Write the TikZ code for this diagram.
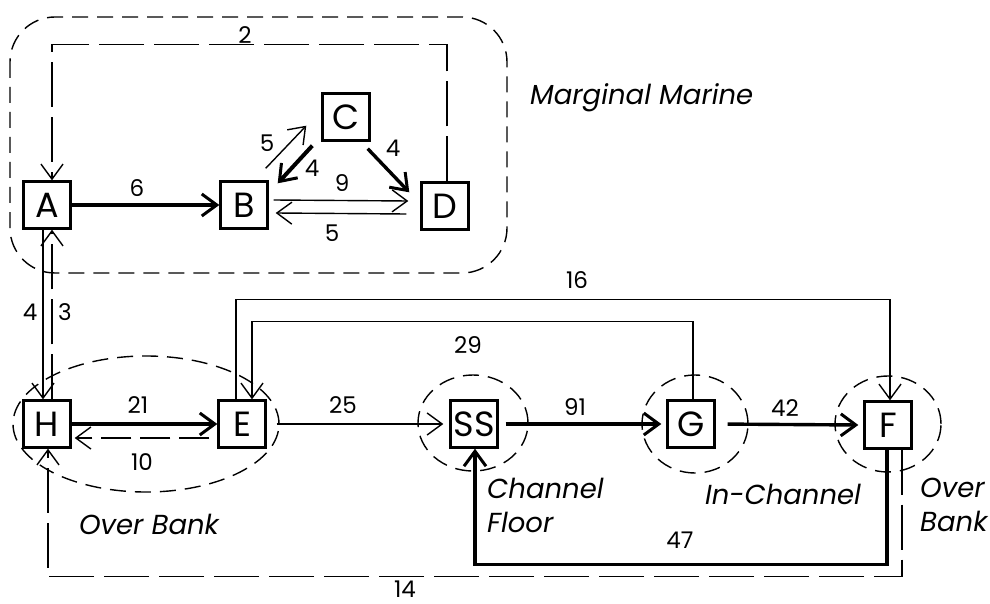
\documentclass[tikz,border=0pt]{standalone}
\usepackage{fontspec}
\setmainfont{Poppins}
\usetikzlibrary{arrows.meta,calc,shapes.geometric}
\begin{document}
\begin{tikzpicture}[x=1pt,y=-1pt,
 box/.style={draw,line width=2.4pt,minimum size=47pt,inner sep=0pt,font=\fontsize{35}{35}\selectfont},
 num/.style={font=\fontsize{23}{23}\selectfont,inner sep=0pt},
 region/.style={font=\fontsize{27.5}{34}\selectfont\itshape,inner sep=0pt,align=left},
 tipthin/.style={-{Straight Barb[length=15pt,width=22pt,line width=1.4pt]}},
 thinflow/.style={line width=1.4pt,tipthin},
 thickflow/.style={line width=3.4pt,-{Straight Barb[length=15pt,width=22pt,line width=3pt]}},
 dashflow/.style={line width=1.4pt,dash pattern=on 45pt off 10pt,tipthin},
 zone/.style={line width=1.4pt,dash pattern=on 16pt off 9pt},
]
\useasboundingbox (0,0) rectangle (990,604);

% zones
\draw[zone, rounded corners=45pt] (10,17) rectangle (507,273);
\node[zone,draw,ellipse,minimum width=266pt,minimum height=136pt] (zHE) at (146,424) {};
\node[zone,draw,ellipse,minimum width=110pt,minimum height=96pt] (zSS) at (473,423) {};
\node[zone,draw,ellipse,minimum width=106pt,minimum height=98pt] (zG) at (695,424) {};
\node[zone,draw,ellipse,minimum width=106pt,minimum height=96pt] (zF) at (888,424) {};

% boxes
\node[box,fill=white] (A) at (47,205) {A};
\node[box,fill=white] (B) at (244,205) {B};
\node[box,fill=white] (C) at (346,117) {C};
\node[box,fill=white] (D) at (445,206) {D};
\node[box,fill=white] (H) at (47,424) {H};
\node[box,fill=white] (E) at (242,424) {E};
\node[box,fill=white] (SS) at (474,424) {SS};
\node[box,fill=white] (G) at (691,424) {G};
\node[box,fill=white] (F) at (888,425) {F};

% marginal marine flows
\draw[thickflow] (A.east) -- (B.west);
\draw[thinflow] ([yshift=5pt,xshift=5pt]B.east) -- ([yshift=5pt,xshift=-12pt]D.west);
\draw[thinflow] ([yshift=-8pt,xshift=-14pt]D.west) -- ([yshift=-8pt,xshift=7pt]B.east);
\draw[thinflow] ($(B.north east)+(-3,-12)$) -- ($(C.south west)+(-15,-16)$);
\draw[thickflow,line width=4pt] ($(C.south west)+(-9,4)$) -- ($(B.north east)+(9,3)$);
\draw[thickflow] ($(C.south east)+(-3,7)$) -- ($(D.north west)+(-11,11)$);
\draw[dashflow] ([xshift=2pt]D.north) -- ++(0,-137) -| ([xshift=5pt]A.north);

% A <-> H
\draw[thinflow] ([xshift=-4pt]A.south) -- ([xshift=-4pt]H.north);
\draw[dashflow] ([xshift=5pt]H.north) -- ([xshift=5pt]A.south);

% lower flows
\draw[thickflow] (H.east) -- (E.west);
\draw[dashflow,dash pattern=on 30pt off 9pt] ([yshift=-14pt,xshift=-8pt]E.west) -- ([yshift=-14pt,xshift=3pt]H.east);
\draw[thinflow,shorten <=10pt] (E.east) -- ([xshift=-6pt]SS.west);
\draw[thickflow,shorten <=7pt] (SS.east) -- ([xshift=-5pt]G.west);
\draw[thickflow,shorten <=12pt] (G.east) -- ([xshift=-5pt]F.west);
\draw[thinflow] ([xshift=2pt]G.north) -- ++(0,-78) -| ([xshift=10pt]E.north);
\draw[thinflow] ([xshift=-6pt]E.north) -- ++(0,-100) -| ([xshift=2pt]F.north);
\draw[thickflow] ([xshift=-1pt]F.south) -- ++(0,115) -| ([xshift=1pt]SS.south);
\draw[dashflow] ([xshift=14pt]F.south) -- ++(0,127) -| ([xshift=1pt]H.south);

% numbers
\node[num] (n6) at (137,188) {6};
\node[num] (n9) at (342,183) {9};
\node[num] (n5a) at (332,233) {5};
\node[num] (n5b) at (267,143) {5};
\node[num] (n4a) at (312,168) {4};
\node[num] (n4b) at (393,148) {4};
\node[num] (n2) at (245,35) {2};
\node[num] (n4c) at (30,312) {4};
\node[num] (n3) at (65,312) {3};
\node[num] (n21) at (138,405) {21};
\node[num] (n10) at (142,462) {10};
\node[num] (n25) at (343,405) {25};
\node[num] (n29) at (468,345) {29};
\node[num] (n16) at (577,280) {16};
\node[num] (n91) at (575,407) {91};
\node[num] (n42) at (785,408) {42};
\node[num] (n47) at (680,540) {47};
\node[num] (n14) at (405,589) {14};

% region labels
\node[region,anchor=west] (lMM) at (530,98) {Marginal Marine};
\node[region] (lOB) at (149,524) {Over Bank};
\node[region,anchor=north west] (lCF) at (487,478) {Channel\\Floor};
\node[region] (lIC) at (783,494) {In-Channel};
\node[region,anchor=north west] (lOB2) at (920,478) {Over\\Bank};
\end{tikzpicture}
\end{document}
